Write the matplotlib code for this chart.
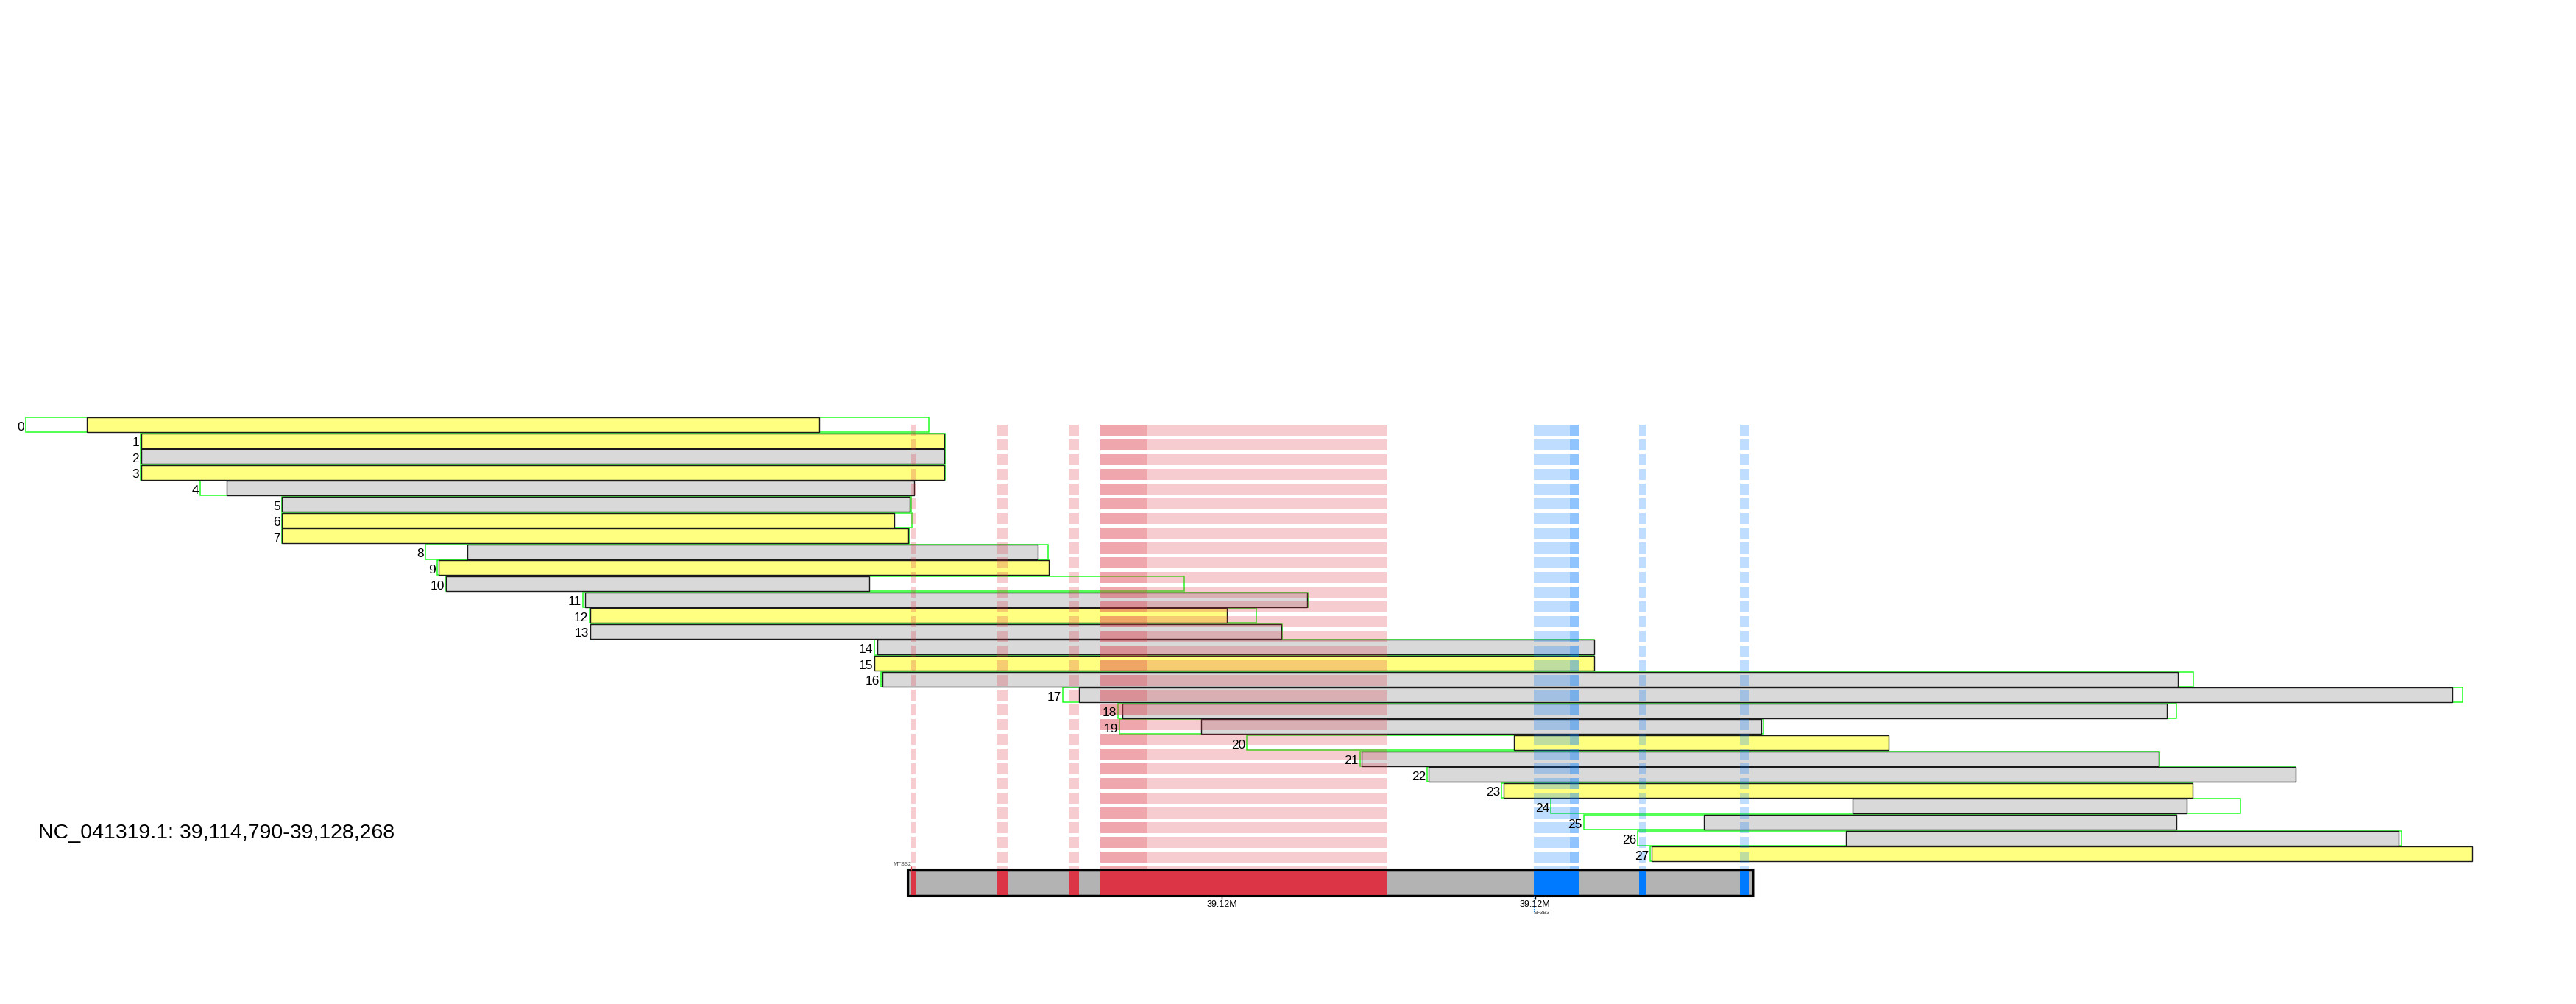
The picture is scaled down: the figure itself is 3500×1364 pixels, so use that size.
"""Read pileup over NC_041319.1 with MTSS2 / SF3B3 exon bands."""

import matplotlib.pyplot as plt
import numpy as np
from matplotlib.patches import Rectangle

plt.rcParams["font.family"] = ["Liberation Sans", "DejaVu Sans"]

chrom = "NC_041319.1"
region_start = 39114790
region_end = 39128268

# one row per read: full extent (green outline) and aligned block (filled)
outline_start = [
    39100713, 39102545, 39102545, 39102545, 39103496, 39104799, 39104799,
    39104799, 39107088, 39107276, 39107417, 39109601, 39109706, 39109718,
    39114250, 39114250, 39114355, 39117255, 39118136, 39118159, 39120191,
    39121999, 39123067, 39124253, 39125039, 39125568, 39126425, 39126624,
]
outline_end = [
    39115119, 39115377, 39115377, 39115377, 39114884, 39114837, 39114849,
    39114813, 39117021, 39117032, 39119193, 39121165, 39120343, 39120754,
    39125732, 39125732, 39135289, 39139586, 39135019, 39128432, 39130428,
    39134749, 39136921, 39135277, 39136040, 39135019, 39138611, 39139738,
]
block_start = [
    39101688, 39102557, 39102557, 39102557, 39103918, 39104799, 39104799,
    39104799, 39107757, 39107300, 39107417, 39109636, 39109718, 39109718,
    39114297, 39114250, 39114379, 39117514, 39118206, 39119463, 39124452,
    39122022, 39123090, 39124288, 39129853, 39127481, 39129747, 39126648,
]
block_end = [
    39113369, 39115365, 39115365, 39115365, 39114884, 39114813, 39114567,
    39114790, 39116856, 39117032, 39114168, 39121153, 39119874, 39120742,
    39125732, 39125732, 39135042, 39139421, 39134866, 39128397, 39130428,
    39134737, 39136921, 39135277, 39135183, 39135019, 39138564, 39139738,
]
block_kind = [
    "y", "y", "g", "y", "g", "g", "y", "y", "g", "y", "g", "g", "y", "g",
    "g", "y", "g", "g", "g", "g", "y", "g", "g", "y", "g", "g", "g", "y",
]

# exons in the annotation track
red_start = [39114837, 39116199, 39117349, 39117854, 39117854]
red_end = [39114907, 39116375, 39117514, 39122433, 39118606]
blue_start = [39124769, 39125345, 39126448, 39128057]
blue_end = [39125486, 39125486, 39126554, 39128209]

gene_names = ["MTSS2", "SF3B3"]
gene_pos = [39114837, 39124769]

tick_pos = [39119790, 39124790]

RED = "#dc3545"
BLUE = "#007bff"
YELLOW = "#ffff80"
GRAY = "#d9d9d9"
GREEN = "#22ff22"

fig = plt.figure(figsize=(35, 13.64), dpi=100)
ax = fig.add_axes([0, 0, 1, 1])
ax.axis("off")

# pixel layout of the reference: track spans x 1234..2382, rows every 21.6 px
bp_per_px = (region_end - region_start) / (2382 - 1234)
ax.set_xlim(region_start - 1234 * bp_per_px, region_start + (3500 - 1234) * bp_per_px)
row_px = 21.6
ax.set_ylim((1364 - 577) / row_px, -577 / row_px)

bar_h = 20 / row_px
fills = {"y": YELLOW, "g": GRAY}
for i, (os_, oe, bs, be, kind) in enumerate(
    zip(outline_start, outline_end, block_start, block_end, block_kind)
):
    ax.add_patch(
        Rectangle((os_, i - bar_h / 2), oe - os_, bar_h, fill=False,
                  edgecolor=GREEN, linewidth=1.1, zorder=2)
    )
    ax.add_patch(
        Rectangle((bs, i - bar_h / 2), be - bs, bar_h, facecolor=fills[kind],
                  edgecolor="#1a1a1a", linewidth=1.0, zorder=3)
    )
    ax.annotate(str(i), (os_, i), xytext=(-1.5, -2.2), textcoords="offset points",
                ha="right", va="center", fontsize=12.5, color="black", zorder=8)

# annotation track
track_top = (1182 - 577) / row_px
track_h = 35 / row_px
track_bottom = track_top + track_h

# dashed exon bands running up through the reads
dash_period = 20 / row_px
dash_on = 15 / row_px
for y in np.arange(0, track_top, dash_period):
    seg = min(dash_on, track_top - y)
    ax.broken_barh([(s, e - s) for s, e in zip(red_start, red_end)], (y, seg),
                   facecolors=RED, alpha=0.25, linewidth=0, zorder=4)
    ax.broken_barh([(s, e - s) for s, e in zip(blue_start, blue_end)], (y, seg),
                   facecolors=BLUE, alpha=0.25, linewidth=0, zorder=4)

ax.add_patch(
    Rectangle((region_start, track_top), region_end - region_start, track_h,
              facecolor="#b3b3b3", edgecolor="#8c8c8c", linewidth=3.0, zorder=5)
)
for s, e in zip(red_start, red_end):
    ax.add_patch(Rectangle((s, track_top), e - s, track_h, facecolor=RED,
                           linewidth=0, zorder=6))
for s, e in zip(blue_start, blue_end):
    ax.add_patch(Rectangle((s, track_top), e - s, track_h, facecolor=BLUE,
                           linewidth=0, zorder=6))
ax.add_patch(
    Rectangle((region_start, track_top), region_end - region_start, track_h,
              fill=False, edgecolor="black", linewidth=1.5, zorder=7)
)

ax.vlines(tick_pos, track_bottom, track_bottom + 0.25, color="black", linewidth=1.0, zorder=7)
for t in tick_pos:
    ax.text(t, track_bottom + 0.3, f"{t / 1e6:.2f}M", ha="center", va="top",
            fontsize=9, color="black", zorder=8)

# gene labels
ax.vlines(gene_pos[0], track_top - 0.22, track_top, color=RED, linewidth=0.8, zorder=7)
ax.text(gene_pos[0], track_top - 0.36, gene_names[0], ha="right", va="center",
        fontsize=5.4, color="#444444", zorder=8)
ax.vlines(gene_pos[1], track_bottom, track_bottom + 1.05, color=BLUE, linewidth=0.8,
          linestyles=":", zorder=7)
ax.text(gene_pos[1], track_bottom + 1.1, gene_names[1], ha="left", va="center",
        fontsize=5.2, color="#444444", zorder=8)

fig.text(52 / 3500, 1 - 1132 / 1364, f"{chrom}: {region_start:,}-{region_end:,}",
         ha="left", va="center", fontsize=20.5, color="black")

fig.savefig("out.png", dpi=100, facecolor="white")
